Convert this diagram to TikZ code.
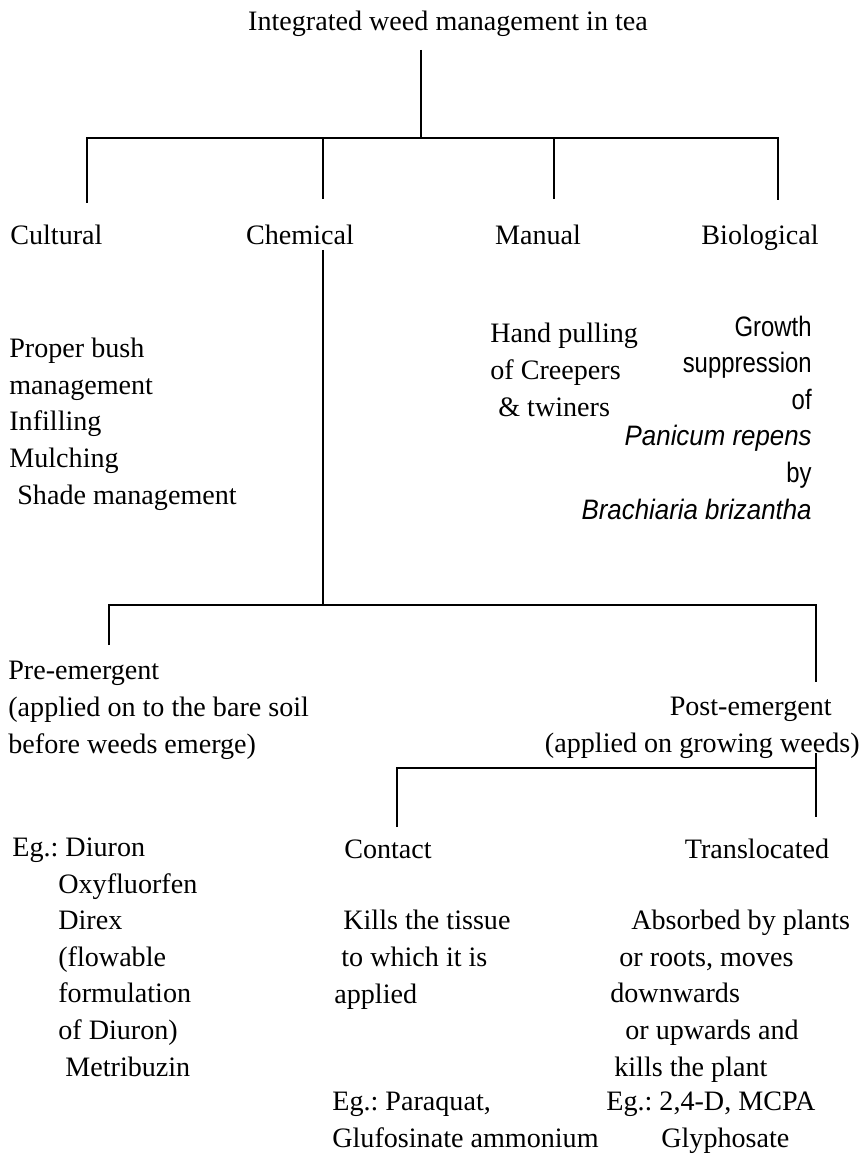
\documentclass[tikz,border=0pt]{standalone}
\usepackage{fontspec}
\setmainfont{Liberation Serif}
\newfontfamily\biofont[FakeStretch=0.85]{Liberation Sans}
\newfontfamily\bioitfont[FakeStretch=0.92]{Liberation Sans}
\usetikzlibrary{positioning,calc}
\definecolor{linecolor}{RGB}{0,0,0}
\definecolor{labelcolor}{RGB}{0,0,0}
\tikzset{
basetext/.style={
  font=\fontsize{16}{20.8}\selectfont\frenchspacing,
  text=labelcolor,
  inner sep=0pt
},
connector/.style={
  draw=linecolor,
  line width=1.1pt
}
}

\begin{document}
\begin{tikzpicture}[
    % Estilos dos textos (ancora base = linha de base da ultima linha)
    titlelabel/.style={basetext, anchor=base},
    branchlabel/.style={basetext, anchor=base},
    notetext/.style={basetext, align=left, anchor=base west},
    rightnote/.style={basetext, align=right, anchor=base east},
    biotext/.style={rightnote, font=\biofont\fontsize{16}{20.8}\selectfont},
]
\useasboundingbox (0,0) rectangle (17.22,-23.1);

% ============================================================================
% RAIZ
% ============================================================================
\node[titlelabel] (root) at (8.96,-0.62) {Integrated weed management in tea};
\coordinate (roottail) at (8.42,-1.0);
\coordinate (hubA) at (8.42,-2.76);

% ============================================================================
% PRIMEIRO NIVEL
% ============================================================================
\node[branchlabel, anchor=base west] (cultural) at (0.2,-4.9) {Cultural};
\node[branchlabel] (chemical) at (6.0,-4.9) {Chemical};
\node[branchlabel] (manual) at (10.76,-4.9) {Manual};
\node[branchlabel] (biological) at (15.2,-4.9) {Biological};

\coordinate (culdrop) at (1.74,-4.06);
\coordinate (chemdrop) at (6.46,-3.98);
\coordinate (mandrop) at (11.08,-3.98);
\coordinate (biodrop) at (15.56,-4.0);

\draw[connector] (roottail) -- (hubA);
\draw[connector] (culdrop) |- (hubA) -| (biodrop);
\draw[connector] (chemdrop) -- (chemdrop |- hubA);
\draw[connector] (mandrop) -- (mandrop |- hubA);

\node[notetext] (culturalnote) at (0.18,-10.08) {Proper bush\\ management\\ Infilling\\ Mulching\\ \hspace*{0.16cm}Shade management};
\node[notetext] (manualnote) at (9.8,-8.32) {Hand pulling\\ of Creepers\\ \hspace*{0.16cm}\& twiners};
\node[biotext] (bionote) at (16.24,-10.38) {Growth\\ suppression\\ of\\ {\bioitfont\itshape Panicum repens}\\ by\\ {\bioitfont\itshape Brachiaria brizantha}};

% ============================================================================
% QUIMICO
% ============================================================================
\coordinate (chemtail) at (6.46,-5.0);
\coordinate (hubB) at (6.46,-12.1);
\coordinate (predrop) at (2.18,-12.9);
\coordinate (postdrop) at (16.32,-13.64);

\draw[connector] (chemtail) -- (hubB);
\draw[connector] (predrop) |- (hubB) -| (postdrop);

\node[notetext] (preemergent) at (0.16,-15.06) {Pre-emergent\\ (applied on to the bare soil\\ before weeds emerge)};
\node[rightnote] (postemergent) at (17.2,-15.04) {Post-emergent\hspace*{0.56cm}\\ (applied on growing weeds)};

% ============================================================================
% POS-EMERGENTE
% ============================================================================
\coordinate (posttail) at (16.32,-15.06);
\coordinate (hubC) at (16.32,-15.36);
\coordinate (transdrop) at (16.32,-16.34);
\coordinate (contdrop) at (7.94,-16.54);

\draw[connector] (posttail) -- (transdrop);
\draw[connector] (contdrop) |- (hubC);

\node[branchlabel] (contact) at (7.76,-17.16) {Contact};
\node[branchlabel] (translocated) at (15.14,-17.16) {Translocated};

\node[notetext] (prelist) at (0.24,-21.52) {Eg.: Diuron\\ \hspace*{0.92cm}Oxyfluorfen\\ \hspace*{0.92cm}Direx\\ \hspace*{0.92cm}(flowable\\ \hspace*{0.92cm}formulation\\ \hspace*{0.92cm}of Diuron)\\ \hspace*{1.06cm}Metribuzin};
\node[notetext] (contactnote) at (6.68,-20.06) {\hspace*{0.18cm}Kills the tissue\\ \hspace*{0.14cm}to which it is\\ applied};
\node[notetext] (contacteg) at (6.64,-22.94) {Eg.: Paraquat,\\ Glufosinate ammonium};
\node[notetext] (transnote) at (12.2,-21.52) {\hspace*{0.42cm}Absorbed by plants\\ \hspace*{0.18cm}or roots, moves\\ downwards\\ \hspace*{0.3cm}or upwards and\\ \hspace*{0.08cm}kills the plant};
\node[notetext] (transeg) at (12.12,-22.94) {Eg.: 2,4-D, MCPA\\ \hspace*{1.1cm}Glyphosate};

\end{tikzpicture}
\end{document}
